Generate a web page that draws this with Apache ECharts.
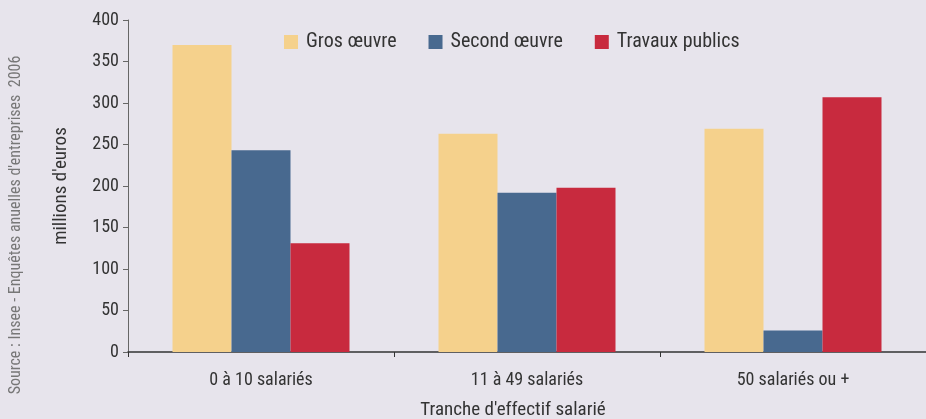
<!DOCTYPE html>
<html><head><meta charset="utf-8">
<script src="https://cdn.jsdelivr.net/npm/echarts@6/dist/echarts.min.js"></script>
<style>html,body{margin:0;padding:0;background:#e7e4ec;}#c{width:926px;height:419px;}</style>
</head><body><div id="c"></div>
<script>
const categories = ['0 à 10 salariés', '11 à 49 salariés', '50 salariés ou +'];
const grosOeuvre = [370, 263, 269];
const secondOeuvre = [243, 192, 26];
const travauxPublics = [131, 198, 307];
const seriesNames = ['Gros œuvre', 'Second œuvre', 'Travaux publics'];
const yTicks = {min: 0, max: 400, interval: 50};

const FONT = '"Liberation Sans Narrow", "Roboto Condensed", "Liberation Sans", sans-serif';
const chart = echarts.init(document.getElementById('c'));
const colors = ['#f5d18c', '#48698f', '#c82a3e'];
chart.setOption({
  backgroundColor: '#e7e4ec',
  animation: false,
  textStyle: {fontFamily: FONT},
  legend: {
    top: 27, left: 279,
    itemWidth: 14, itemHeight: 14, itemGap: 32,
    icon: 'rect',
    textStyle: {fontFamily: FONT, fontSize: 20, color: '#333', padding: [0, 0, 0, 3]},
    data: seriesNames
  },
  grid: {left: 128, right: 0, top: 20, bottom: 67, containLabel: false},
  xAxis: {
    type: 'category', data: categories,
    axisLine: {lineStyle: {color: '#333', width: 1.5}},
    axisTick: {show: true, length: 5, lineStyle: {color: '#333'}},
    axisLabel: {fontFamily: FONT, fontSize: 18, color: '#333', margin: 19}
  },
  yAxis: {
    type: 'value', min: yTicks.min, max: yTicks.max, interval: yTicks.interval,
    name: "millions d'euros", nameLocation: 'middle', nameGap: 57, nameRotate: 90,
    nameTextStyle: {fontFamily: FONT, fontSize: 19, color: '#333'},
    axisLine: {show: true, lineStyle: {color: '#666', width: 1}},
    axisTick: {show: true, length: 5, lineStyle: {color: '#666'}},
    axisLabel: {fontFamily: FONT, fontSize: 18, color: '#333', margin: 9},
    splitLine: {show: false}
  },
  series: [
    {name: seriesNames[0], type: 'bar', data: grosOeuvre, barWidth: 59, barGap: '0%', itemStyle: {color: colors[0]}},
    {name: seriesNames[1], type: 'bar', data: secondOeuvre, barWidth: 59, barGap: '0%', itemStyle: {color: colors[1]}},
    {name: seriesNames[2], type: 'bar', data: travauxPublics, barWidth: 59, barGap: '0%', itemStyle: {color: colors[2]}}
  ],
  graphic: [
    {type: 'text', x: 513, y: 410, style: {text: "Tranche d'effectif salarié", font: '19px ' + FONT, fill: '#333', align: 'center', verticalAlign: 'middle'}},
    {type: 'text', x: 16, y: 225, rotation: Math.PI / 2, style: {text: "Source : Insee - Enquêtes anuelles d'entreprises  2006", font: '16px ' + FONT, fill: '#777', align: 'center', verticalAlign: 'middle'}}
  ]
});
</script></body></html>
